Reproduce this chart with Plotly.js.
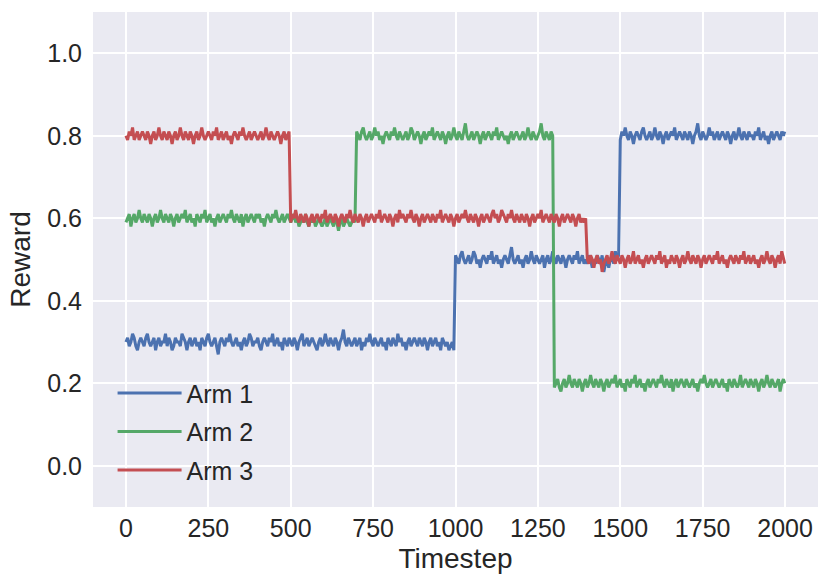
<!DOCTYPE html>
<html>
<head>
<meta charset="utf-8">
<script src="https://cdn.plot.ly/plotly-3.0.1.min.js"></script>
<style>
  body { margin: 0; background: #ffffff; }
  #chart { width: 830px; height: 588px; }
</style>
</head>
<body>
<div id="chart"></div>
<script>
// rewards sampled every 5 timesteps (last sample at t = 1999)
var arm1 = [
    0.30,0.31,0.29,0.30,0.32,0.31,0.29,0.28,0.30,0.31,0.30,0.29,0.31,0.32,0.30,0.29,0.30,0.31,0.28,0.30,
    0.31,0.29,0.30,0.30,0.32,0.29,0.31,0.30,0.28,0.29,0.31,0.30,0.30,0.29,0.32,0.31,0.30,0.28,0.30,0.31,
    0.29,0.30,0.31,0.29,0.30,0.28,0.31,0.30,0.29,0.31,0.32,0.30,0.29,0.30,0.31,0.29,0.27,0.30,0.31,0.30,
    0.29,0.31,0.30,0.32,0.30,0.29,0.30,0.31,0.29,0.30,0.28,0.30,0.31,0.29,0.30,0.32,0.31,0.29,0.30,0.30,
    0.31,0.29,0.28,0.30,0.31,0.30,0.29,0.31,0.30,0.32,0.29,0.30,0.31,0.29,0.30,0.28,0.31,0.30,0.29,0.31,
    0.30,0.29,0.31,0.30,0.28,0.30,0.31,0.32,0.29,0.30,0.31,0.29,0.30,0.31,0.30,0.29,0.28,0.30,0.31,0.29,
    0.30,0.32,0.30,0.29,0.31,0.30,0.29,0.31,0.30,0.28,0.30,0.31,0.33,0.30,0.29,0.31,0.30,0.29,0.30,0.31,
    0.29,0.30,0.31,0.28,0.30,0.29,0.31,0.30,0.32,0.30,0.29,0.31,0.30,0.29,0.30,0.31,0.29,0.30,0.28,0.31,
    0.30,0.29,0.31,0.30,0.29,0.32,0.30,0.31,0.29,0.30,0.28,0.30,0.31,0.29,0.30,0.31,0.30,0.29,0.31,0.30,
    0.29,0.31,0.30,0.28,0.30,0.31,0.29,0.30,0.31,0.29,0.30,0.28,0.31,0.30,0.29,0.30,0.28,0.29,0.30,0.28,
    0.51,0.50,0.49,0.51,0.52,0.50,0.49,0.50,0.51,0.49,0.50,0.52,0.51,0.49,0.50,0.48,0.50,0.51,0.50,0.49,
    0.51,0.50,0.52,0.49,0.50,0.51,0.49,0.50,0.48,0.50,0.51,0.50,0.49,0.51,0.53,0.50,0.49,0.50,0.51,0.49,
    0.50,0.48,0.50,0.51,0.49,0.50,0.52,0.50,0.49,0.51,0.50,0.49,0.50,0.51,0.48,0.50,0.51,0.49,0.50,0.52,
    0.50,0.49,0.51,0.50,0.49,0.51,0.50,0.48,0.50,0.51,0.50,0.49,0.51,0.50,0.52,0.49,0.50,0.51,0.49,0.50,
    0.49,0.51,0.50,0.48,0.50,0.49,0.51,0.50,0.49,0.51,0.47,0.49,0.50,0.48,0.50,0.51,0.49,0.52,0.50,0.51,
    0.79,0.81,0.80,0.82,0.80,0.79,0.81,0.80,0.78,0.80,0.81,0.80,0.79,0.81,0.82,0.80,0.79,0.80,0.81,0.79,
    0.80,0.82,0.80,0.79,0.81,0.80,0.78,0.80,0.81,0.79,0.80,0.81,0.80,0.82,0.79,0.80,0.81,0.80,0.79,0.81,
    0.80,0.79,0.81,0.80,0.78,0.80,0.81,0.83,0.80,0.79,0.81,0.80,0.79,0.80,0.82,0.80,0.81,0.79,0.80,0.81,
    0.79,0.80,0.81,0.80,0.79,0.81,0.80,0.78,0.80,0.81,0.79,0.80,0.82,0.80,0.79,0.81,0.80,0.79,0.81,0.80,
    0.80,0.79,0.81,0.80,0.82,0.79,0.80,0.81,0.79,0.80,0.78,0.80,0.81,0.79,0.80,0.81,0.80,0.79,0.81,0.80,0.81
];
var arm2 = [
    0.59,0.60,0.61,0.58,0.60,0.61,0.59,0.60,0.62,0.60,0.59,0.61,0.60,0.59,0.61,0.60,0.58,0.60,0.61,0.59,
    0.60,0.62,0.60,0.59,0.61,0.60,0.59,0.61,0.60,0.58,0.60,0.61,0.59,0.60,0.61,0.60,0.62,0.59,0.60,0.61,
    0.59,0.60,0.58,0.61,0.60,0.59,0.61,0.60,0.62,0.59,0.60,0.61,0.59,0.60,0.58,0.60,0.61,0.59,0.60,0.61,
    0.60,0.59,0.61,0.60,0.62,0.60,0.59,0.61,0.60,0.59,0.61,0.58,0.60,0.61,0.59,0.60,0.61,0.60,0.59,0.61,
    0.60,0.61,0.59,0.60,0.58,0.60,0.61,0.60,0.59,0.61,0.60,0.62,0.60,0.59,0.60,0.61,0.59,0.60,0.61,0.60,
    0.59,0.60,0.61,0.59,0.60,0.58,0.59,0.60,0.59,0.61,0.59,0.58,0.60,0.59,0.60,0.58,0.59,0.60,0.59,0.58,
    0.59,0.60,0.58,0.59,0.60,0.59,0.58,0.60,0.59,0.57,0.59,0.60,0.58,0.59,0.60,0.59,0.58,0.59,0.60,0.59,
    0.81,0.80,0.79,0.81,0.82,0.80,0.79,0.80,0.81,0.79,0.80,0.82,0.80,0.81,0.79,0.80,0.78,0.80,0.81,0.80,
    0.79,0.81,0.80,0.82,0.80,0.79,0.81,0.80,0.79,0.80,0.81,0.79,0.80,0.82,0.81,0.79,0.80,0.81,0.80,0.78,
    0.80,0.81,0.79,0.80,0.81,0.80,0.82,0.79,0.80,0.81,0.80,0.79,0.81,0.80,0.78,0.80,0.81,0.79,0.80,0.82,
    0.80,0.79,0.81,0.80,0.79,0.81,0.83,0.80,0.79,0.80,0.81,0.79,0.80,0.81,0.80,0.78,0.80,0.81,0.79,0.80,
    0.81,0.80,0.79,0.81,0.80,0.82,0.79,0.80,0.81,0.80,0.79,0.80,0.78,0.80,0.81,0.79,0.80,0.81,0.80,0.79,
    0.80,0.81,0.79,0.80,0.82,0.80,0.79,0.81,0.80,0.79,0.80,0.81,0.83,0.80,0.79,0.81,0.80,0.79,0.81,0.80,
    0.19,0.20,0.21,0.19,0.18,0.20,0.21,0.19,0.20,0.22,0.20,0.19,0.21,0.20,0.19,0.21,0.20,0.18,0.20,0.21,
    0.19,0.20,0.22,0.20,0.19,0.21,0.20,0.19,0.21,0.20,0.18,0.20,0.21,0.19,0.20,0.21,0.20,0.22,0.19,0.20,
    0.21,0.19,0.20,0.18,0.21,0.20,0.19,0.21,0.20,0.22,0.19,0.20,0.21,0.19,0.20,0.18,0.20,0.21,0.19,0.20,
    0.21,0.20,0.19,0.21,0.20,0.22,0.20,0.19,0.21,0.20,0.19,0.21,0.18,0.20,0.21,0.19,0.20,0.21,0.20,0.19,
    0.21,0.20,0.19,0.20,0.21,0.19,0.20,0.18,0.20,0.21,0.20,0.22,0.20,0.19,0.20,0.21,0.19,0.20,0.21,0.20,
    0.19,0.20,0.21,0.19,0.20,0.18,0.21,0.20,0.19,0.21,0.20,0.19,0.20,0.22,0.19,0.20,0.21,0.20,0.19,0.21,
    0.20,0.19,0.21,0.20,0.18,0.20,0.21,0.19,0.20,0.22,0.20,0.19,0.21,0.20,0.19,0.20,0.21,0.18,0.20,0.21,0.20
];
var arm3 = [
    0.80,0.79,0.81,0.80,0.82,0.79,0.80,0.81,0.79,0.80,0.81,0.80,0.79,0.81,0.80,0.78,0.80,0.81,0.79,0.80,
    0.82,0.80,0.79,0.81,0.80,0.79,0.81,0.80,0.78,0.80,0.81,0.79,0.80,0.82,0.80,0.79,0.81,0.80,0.79,0.81,
    0.80,0.78,0.80,0.81,0.79,0.80,0.82,0.80,0.79,0.80,0.81,0.80,0.79,0.81,0.80,0.82,0.79,0.80,0.81,0.79,
    0.80,0.81,0.79,0.80,0.78,0.80,0.81,0.80,0.79,0.81,0.80,0.82,0.80,0.79,0.80,0.81,0.79,0.80,0.81,0.80,
    0.79,0.80,0.81,0.79,0.80,0.82,0.80,0.79,0.81,0.80,0.79,0.80,0.81,0.80,0.78,0.80,0.81,0.79,0.80,0.81,
    0.59,0.61,0.60,0.62,0.60,0.59,0.61,0.60,0.59,0.61,0.60,0.58,0.60,0.61,0.59,0.60,0.61,0.60,0.59,0.61,
    0.60,0.62,0.59,0.60,0.61,0.60,0.59,0.61,0.60,0.58,0.60,0.61,0.60,0.59,0.61,0.60,0.62,0.60,0.59,0.61,
    0.60,0.59,0.61,0.60,0.58,0.60,0.61,0.59,0.60,0.61,0.60,0.59,0.61,0.60,0.62,0.59,0.60,0.61,0.60,0.59,
    0.61,0.60,0.58,0.60,0.61,0.59,0.62,0.60,0.61,0.60,0.59,0.61,0.60,0.62,0.60,0.59,0.61,0.60,0.58,0.60,
    0.61,0.59,0.60,0.61,0.60,0.59,0.61,0.60,0.59,0.61,0.60,0.62,0.59,0.60,0.61,0.60,0.59,0.61,0.60,0.58,
    0.60,0.61,0.59,0.60,0.61,0.60,0.62,0.60,0.59,0.61,0.60,0.59,0.61,0.60,0.58,0.60,0.61,0.59,0.60,0.61,
    0.60,0.59,0.61,0.62,0.60,0.61,0.59,0.60,0.62,0.61,0.60,0.59,0.61,0.60,0.62,0.60,0.59,0.61,0.60,0.59,
    0.61,0.60,0.59,0.61,0.60,0.58,0.60,0.61,0.59,0.60,0.61,0.60,0.62,0.59,0.60,0.61,0.60,0.59,0.61,0.60,
    0.59,0.61,0.60,0.58,0.60,0.61,0.59,0.60,0.61,0.60,0.59,0.61,0.60,0.58,0.60,0.61,0.59,0.60,0.59,0.60,
    0.50,0.49,0.51,0.50,0.48,0.50,0.51,0.49,0.50,0.47,0.49,0.50,0.51,0.49,0.50,0.52,0.50,0.49,0.51,0.50,
    0.49,0.51,0.50,0.48,0.50,0.51,0.49,0.50,0.52,0.49,0.50,0.51,0.49,0.50,0.48,0.50,0.51,0.49,0.50,0.51,
    0.50,0.49,0.51,0.50,0.52,0.49,0.50,0.51,0.48,0.50,0.49,0.51,0.50,0.49,0.51,0.50,0.48,0.50,0.51,0.49,
    0.50,0.52,0.50,0.49,0.51,0.50,0.49,0.51,0.50,0.48,0.50,0.51,0.49,0.50,0.51,0.50,0.49,0.51,0.50,0.52,
    0.49,0.50,0.51,0.49,0.50,0.48,0.50,0.51,0.50,0.49,0.51,0.50,0.49,0.51,0.50,0.52,0.49,0.50,0.51,0.49,
    0.50,0.51,0.49,0.50,0.48,0.50,0.51,0.49,0.50,0.52,0.50,0.49,0.51,0.50,0.48,0.50,0.51,0.49,0.52,0.50,0.49
];
var armNames = ['Arm 1', 'Arm 2', 'Arm 3'];
var armColors = ['#4C72B0', '#55A868', '#C44E52'];
var xTicks = [0, 250, 500, 750, 1000, 1250, 1500, 1750, 2000];
var yTicks = [0.0, 0.2, 0.4, 0.6, 0.8, 1.0];

function timesteps(n) {
    var t = [];
    for (var i = 0; i < n - 1; i++) t.push(i * 5);
    t.push(1999);
    return t;
}

var font = 'Liberation Sans, Arial, sans-serif';
var traces = [arm1, arm2, arm3].map(function (y, k) {
    return {
        x: timesteps(y.length),
        y: y,
        type: 'scatter',
        mode: 'lines',
        name: armNames[k],
        legendgroup: 'g' + k,
        line: {color: armColors[k], width: 3}
    };
});

var layout = {
    width: 830,
    height: 588,
    margin: {l: 93, r: 12, t: 12, b: 81},
    paper_bgcolor: '#ffffff',
    plot_bgcolor: '#EAEAF2',
    font: {family: font, size: 25, color: '#262626'},
    showlegend: true,
    legend: {
        x: 0.027, y: 0.028, xanchor: 'left', yanchor: 'bottom',
        bgcolor: 'rgba(0,0,0,0)',
        font: {family: font, size: 25, color: '#262626'},
        traceorder: 'grouped',
        tracegroupgap: 3,
        itemwidth: 64
    },
    xaxis: {
        range: [-100, 2100],
        tickvals: xTicks,
        showgrid: true, gridcolor: '#ffffff', gridwidth: 1.8,
        zeroline: false, showline: false, ticks: '',
        tickfont: {size: 25},
        ticklabelstandoff: 4,
        title: {text: 'Timestep', font: {size: 28}, standoff: 7}
    },
    yaxis: {
        range: [-0.1, 1.1],
        tickvals: yTicks,
        tickformat: '.1f',
        showgrid: true, gridcolor: '#ffffff', gridwidth: 1.8,
        zeroline: false, showline: false, ticks: '',
        tickfont: {size: 25},
        ticklabelstandoff: 10,
        title: {text: 'Reward', font: {size: 28}, standoff: 8}
    }
};

Plotly.newPlot('chart', traces, layout, {displayModeBar: false});
</script>
</body>
</html>
